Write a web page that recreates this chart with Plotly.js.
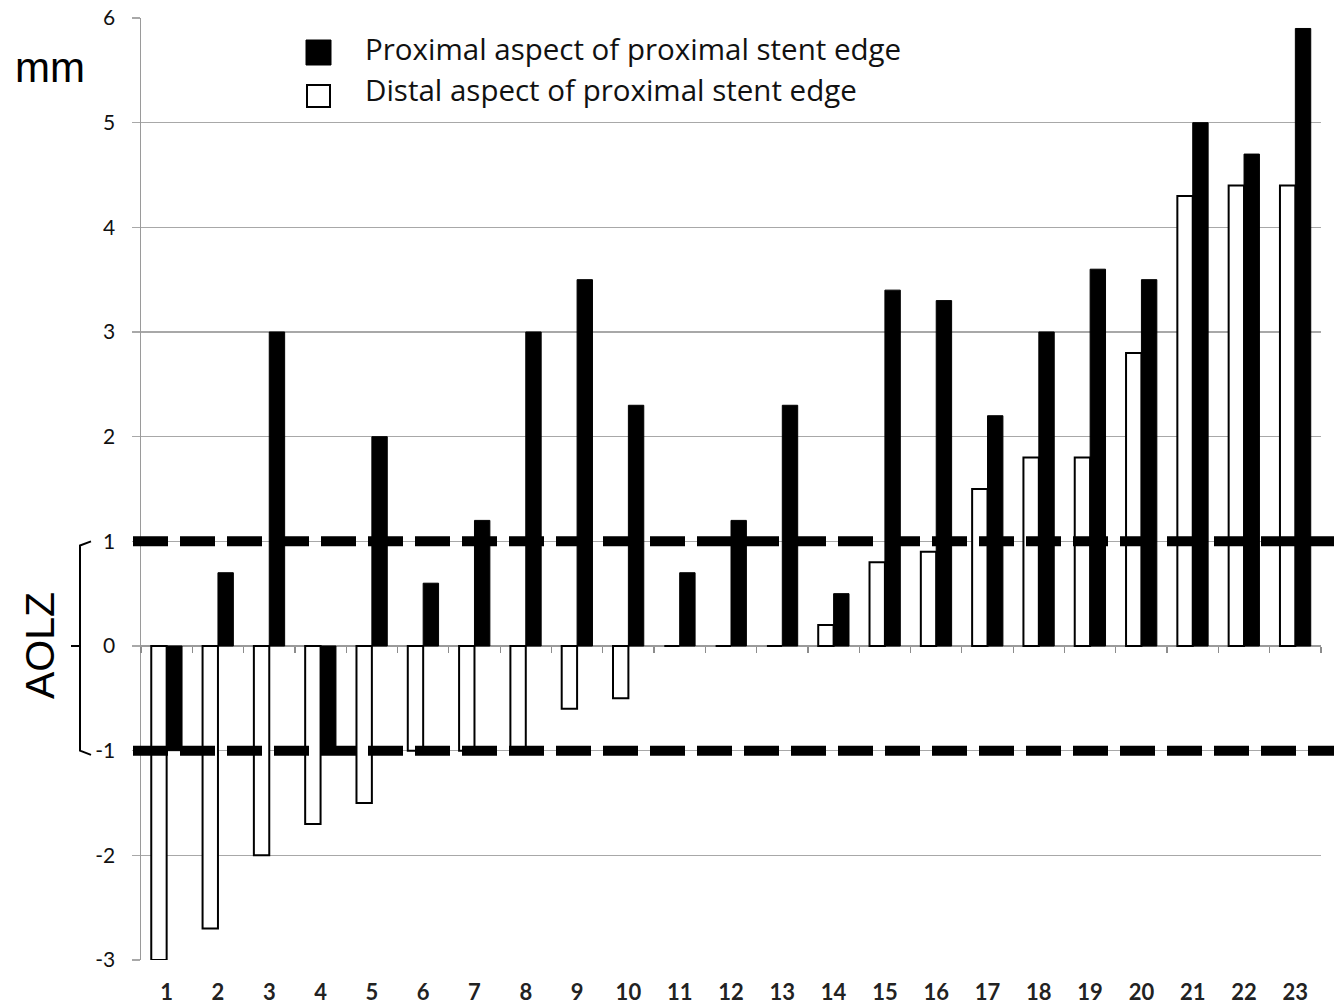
<!DOCTYPE html>
<html>
<head>
<meta charset="utf-8">
<script src="https://cdn.plot.ly/plotly-3.0.1.min.js"></script>
<style>html,body{margin:0;padding:0;background:#fff;}#chart{width:1334px;height:1006px;}</style>
</head>
<body>
<div id="chart"></div>
<script>
// ---- data ----
var cases = ["1","2","3","4","5","6","7","8","9","10","11","12","13","14","15","16","17","18","19","20","21","22","23"];
var distalAspect = [-3, -2.7, -2, -1.7, -1.5, -1, -1, -1, -0.6, -0.5, 0, 0, 0, 0.2, 0.8, 0.9, 1.5, 1.8, 1.8, 2.8, 4.3, 4.4, 4.4];
var proximalAspect = [-1, 0.7, 3, -1, 2, 0.6, 1.2, 3, 3.5, 2.3, 0.7, 1.2, 2.3, 0.5, 3.4, 3.3, 2.2, 3.0, 3.6, 3.5, 5.0, 4.7, 5.9];
var seriesNames = ["Proximal aspect of proximal stent edge", "Distal aspect of proximal stent edge"];
var aolzLimits = [1, -1];
var yTicks = [-3, -2, -1, 0, 1, 2, 3, 4, 5, 6];
var yTickText = ["-3", "-2", "-1", "0", "1", "2", "3", "4", "5", "6"];

// ---- layout helpers (pixel -> paper) ----
var L = 141, R = 13, T = 18, B = 46, W = 1334, H = 1006;
var PW = W - L - R, PH = H - T - B;
function px(x) { return (x - L) / PW; }
function py(y) { return 1 - (y - T) / PH; }

var FONT = "Lato, 'Open Sans', sans-serif";
var LEGFONT = "'Open Sans', 'Noto Sans', sans-serif";
var ARIAL = "'Liberation Sans', Arial, sans-serif";

var traces = [
  {
    type: "bar", x: cases, y: distalAspect, name: seriesNames[1],
    marker: { color: "#ffffff", line: { color: "#000000", width: 2 } },
    showlegend: false, hoverinfo: "x+y+name"
  },
  {
    type: "bar", x: cases, y: proximalAspect, name: seriesNames[0],
    marker: { color: "#000000", line: { color: "#000000", width: 1 } },
    showlegend: false, hoverinfo: "x+y+name"
  },
  {
    type: "scatter", mode: "none", x: cases, y: cases.map(function () { return 0; }),
    xaxis: "x2", yaxis: "y", showlegend: false, hoverinfo: "skip"
  }
];

var shapes = [];
aolzLimits.forEach(function (v) {
  shapes.push({
    type: "line", xref: "paper", yref: "y",
    x0: px(133), x1: px(1336), y0: v, y1: v,
    line: { color: "#000000", width: 10, dash: "35px,12px" }
  });
});
// curly bracket for AOLZ
var bx = px(80), bxr = px(91), bxl = px(71);
shapes.push({
  type: "path", xref: "paper", yref: "y",
  path: "M " + bxr + "," + aolzLimits[0] + " L " + bx + "," + (aolzLimits[0] - 0.04) +
        " L " + bx + "," + (aolzLimits[1] + 0.0) + " L " + bxr + "," + (aolzLimits[1] - 0.04) +
        " M " + bxl + ",0 L " + bx + ",0",
  line: { color: "#000000", width: 2 }
});
// manual legend squares
shapes.push({ type: "rect", xref: "paper", yref: "paper",
  x0: px(306), x1: px(331), y0: py(65), y1: py(40),
  fillcolor: "#000000", line: { color: "#000000", width: 1 } });
shapes.push({ type: "rect", xref: "paper", yref: "paper",
  x0: px(307), x1: px(330), y0: py(107), y1: py(85),
  fillcolor: "#ffffff", line: { color: "#000000", width: 2 } });

var annotations = [
  { xref: "paper", yref: "paper", x: px(363), y: py(49), xanchor: "left", yanchor: "middle",
    text: seriesNames[0], showarrow: false, font: { family: LEGFONT, size: 29.5, color: "#111" } },
  { xref: "paper", yref: "paper", x: px(363), y: py(90), xanchor: "left", yanchor: "middle",
    text: seriesNames[1], showarrow: false, font: { family: LEGFONT, size: 29.5, color: "#111" } },
  { xref: "paper", yref: "paper", x: px(50), y: py(68), xanchor: "center", yanchor: "middle",
    text: "mm", showarrow: false, font: { family: ARIAL, size: 42, color: "#000" } },
  { xref: "paper", yref: "y", x: px(40), y: 0, xanchor: "center", yanchor: "middle",
    text: "AOLZ", textangle: -90, showarrow: false, font: { family: ARIAL, size: 41, color: "#000" } }
];

var layout = {
  width: W, height: H,
  margin: { l: L, r: R, t: T, b: B, pad: 0 },
  paper_bgcolor: "#ffffff", plot_bgcolor: "#ffffff",
  barmode: "group", bargap: 0.4, bargroupgap: 0,
  showlegend: false,
  xaxis: {
    type: "category", categoryarray: cases, range: [-0.5, cases.length - 0.5],
    showgrid: false, showline: false, zeroline: false, ticks: "",
    tickfont: { family: FONT, size: 22, color: "#222", weight: "bold" },
    ticklabelstandoff: 17, fixedrange: true
  },
  xaxis2: {
    type: "category", categoryarray: cases, range: [-0.5, cases.length - 0.5],
    overlaying: "x", anchor: "free", position: py(646),
    showgrid: false, showline: false, zeroline: false,
    ticks: "outside", tickson: "boundaries", ticklen: 6, tickwidth: 1.2, tickcolor: "#8c8c8c",
    showticklabels: false, fixedrange: true
  },
  yaxis: {
    range: [yTicks[0], yTicks[yTicks.length - 1]],
    tickmode: "array", tickvals: yTicks, ticktext: yTickText,
    showgrid: true, gridcolor: "#a8a8a8", gridwidth: 1.5,
    zeroline: true, zerolinecolor: "#9a9a9a", zerolinewidth: 1.5,
    showline: true, linecolor: "#9a9a9a", linewidth: 1.5,
    ticks: "outside", ticklen: 8, tickcolor: "#a8a8a8", tickwidth: 1.5,
    tickfont: { family: FONT, size: 21, color: "#111" },
    ticklabelstandoff: 12, fixedrange: true
  },
  shapes: shapes,
  annotations: annotations
};

Plotly.newPlot("chart", traces, layout, { staticPlot: true, displayModeBar: false });
</script>
</body>
</html>
